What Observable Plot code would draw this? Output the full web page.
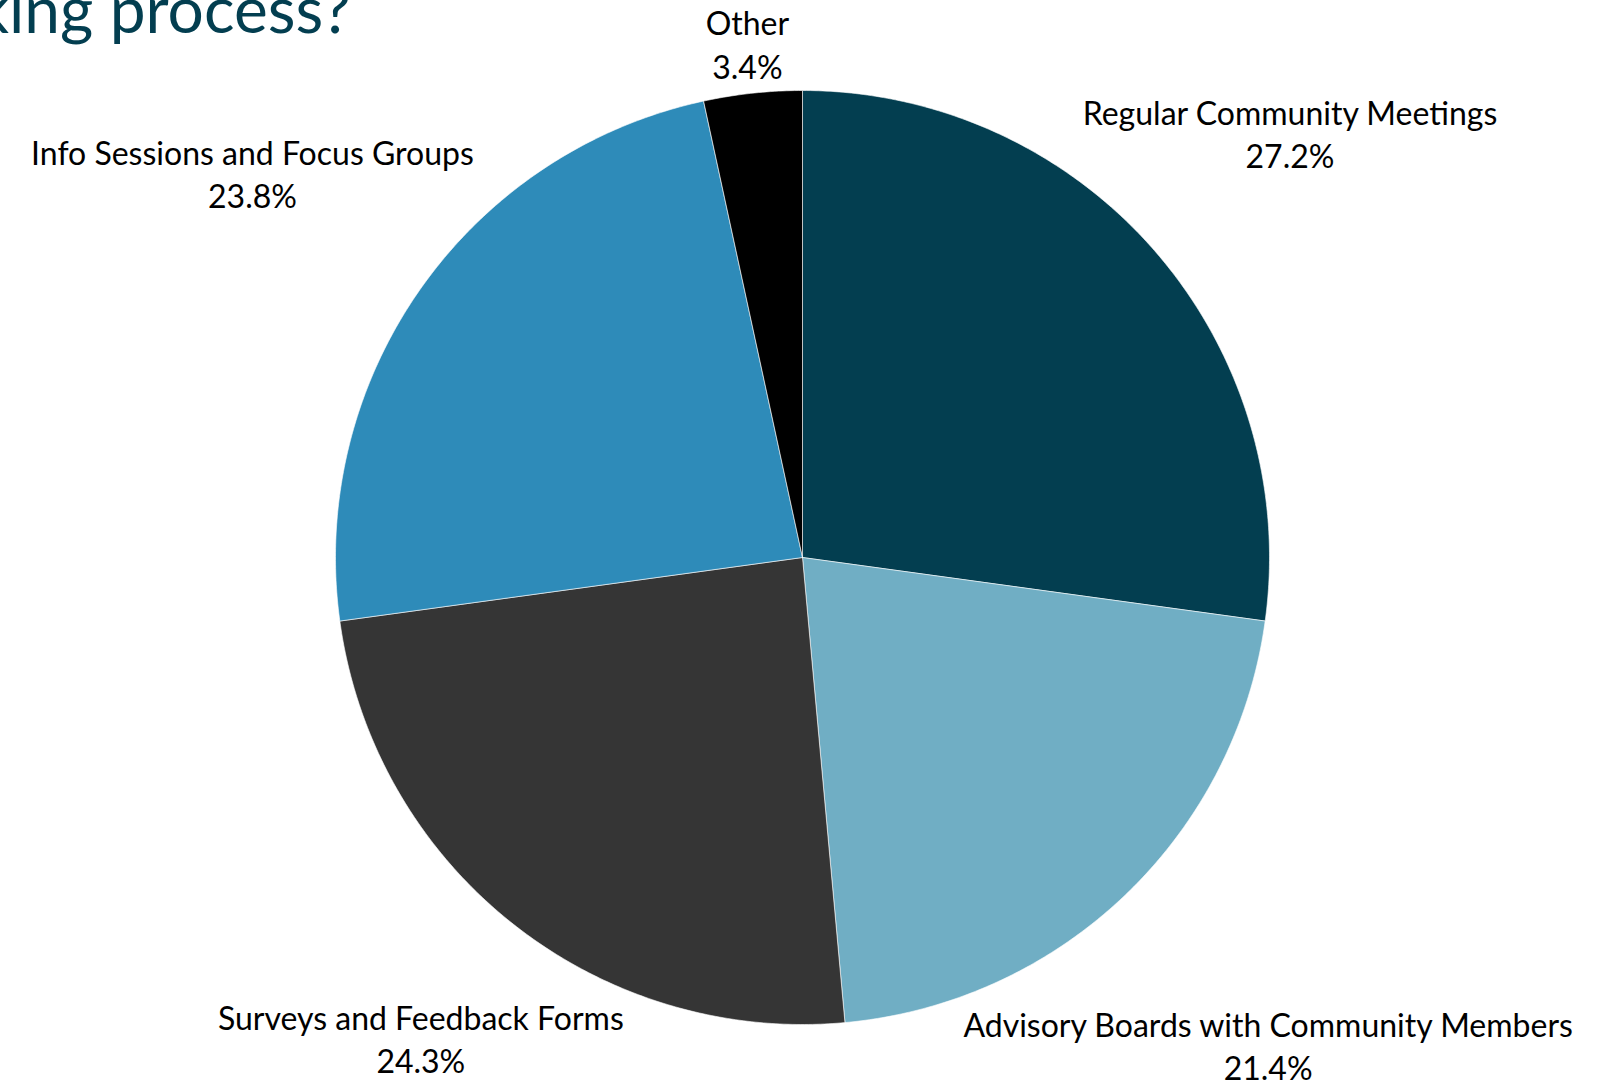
<!DOCTYPE html>
<html><head><meta charset="utf-8">
<script src="https://cdn.jsdelivr.net/npm/d3@7"></script>
<script src="https://cdn.jsdelivr.net/npm/@observablehq/plot@0.6"></script>
<style>
html,body{margin:0;padding:0;background:#fff;width:1618px;height:1081px;overflow:hidden;position:relative}
#chart{position:absolute;left:0;top:0}
#title{position:absolute;right:1267px;top:-23px;font:64px/1 Lato;color:#033e50;white-space:nowrap}
</style></head><body>
<div id="chart"></div>
<div id="title">How are community members involved in the decision-making process?</div>
<script>
// Data
const categories = ["Regular Community Meetings", "Advisory Boards with Community Members", "Surveys and Feedback Forms", "Info Sessions and Focus Groups", "Other"];
const shares = [27.2, 21.4, 24.3, 23.8, 3.4];
const colors = ["#033e50", "#70aec4", "#353535", "#2e8bb9", "#000000"];

// Layout
const W = 1618, H = 1081;
const mL = 335, mR = 349, mT = 90, mB = 57;
const R = (W - mL - mR) / 2;      // px per data unit (pie radius)
const fontSize = 32, lineH = 1.35;
const labelGap = 14;

const total = d3.sum(shares);
let acc = 0;
const slices = categories.map((c, i) => {
  const a0 = acc / total * 2 * Math.PI; acc += shares[i];
  const a1 = acc / total * 2 * Math.PI;
  return {c, a0, a1, i};
});

const pts = [];
for (const s of slices) {
  pts.push({c: s.c, x: 0, y: 0});
  const n = Math.max(2, Math.ceil((s.a1 - s.a0) / (Math.PI / 360)));
  for (let k = 0; k <= n; k++) {
    const a = s.a0 + (s.a1 - s.a0) * k / n;
    pts.push({c: s.c, x: Math.sin(a), y: Math.cos(a)});
  }
  pts.push({c: s.c, x: 0, y: 0});
}

const ctx = document.createElement("canvas").getContext("2d");
ctx.font = `${fontSize}px Lato`;
const D = R + labelGap;
const labels = slices.map(s => {
  const pct = shares[s.i].toFixed(1) + "%";
  const w = Math.max(ctx.measureText(s.c).width, ctx.measureText(pct).width);
  const h = fontSize * lineH + fontSize * 0.75;
  const mid = (s.a0 + s.a1) / 2;
  const ux = Math.sin(mid), uy = Math.cos(mid);
  const sx = Math.sign(ux) * w / 2, sy = Math.sign(uy) * h / 2;
  const us = ux * sx + uy * sy;
  const d = us + Math.sqrt(us * us - (sx * sx + sy * sy) + D * D);
  return {text: s.c + "\n" + pct, x: d * ux / R, y: d * uy / R};
});

const chart = Plot.plot({
  width: W, height: H,
  marginLeft: mL, marginRight: mR, marginTop: mT, marginBottom: mB,
  x: {domain: [-1, 1], axis: null},
  y: {domain: [-1, 1], axis: null},
  color: {domain: categories, range: colors},
  style: {fontFamily: "Lato", background: "white", overflow: "visible"},
  marks: [
    Plot.line(pts, {x: "x", y: "y", z: "c", fill: "c", stroke: "white", strokeWidth: 0.6, curve: "linear"}),
    Plot.text(labels, {x: "x", y: "y", text: "text", fontSize: fontSize, lineHeight: lineH, textAnchor: "middle", lineAnchor: "middle", fill: "black"})
  ]
});
document.getElementById("chart").appendChild(chart);
</script>
</body></html>
